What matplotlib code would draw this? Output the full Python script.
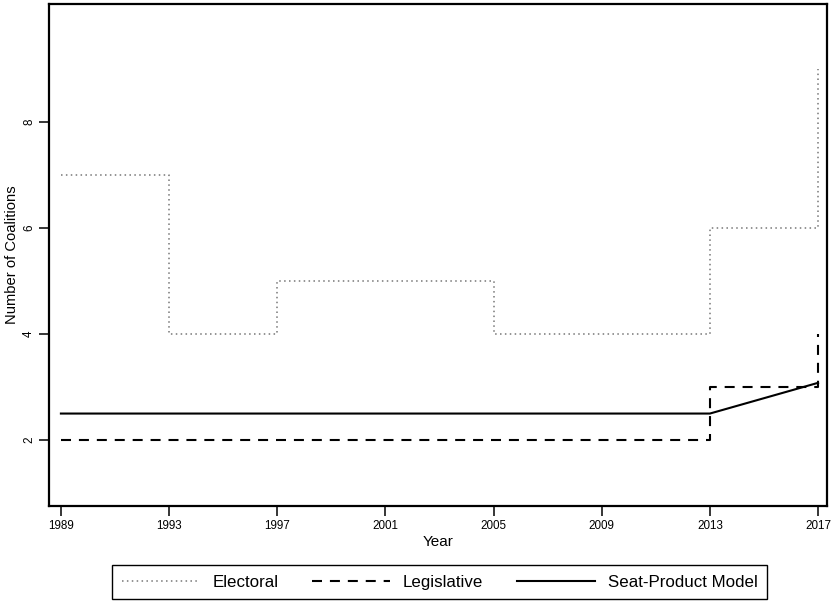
import numpy as np
import matplotlib.pyplot as plt

plt.rcParams['font.family'] = ['Liberation Sans', 'DejaVu Sans']

years = [1989, 1993, 1997, 2001, 2005, 2009, 2013, 2017]
electoral = [7, 4, 5, 5, 4, 4, 6, 9]
legislative = [2, 2, 2, 2, 2, 2, 3, 4]
seat_product_years = [1989, 2013, 2017]
seat_product = [2.5, 2.5, 3.08]

fig = plt.figure(figsize=(8.31, 6.02), dpi=100)
# axes box in pixels: x 49..827, y 4..506
ax = fig.add_axes([49 / 831, 1 - 506 / 602, (827 - 49) / 831, (506 - 4) / 602])

ax.plot(years, electoral, drawstyle='steps-post', color='#777777',
        lw=1.1, linestyle=(0, (1, 2.2)), label='Electoral')
ax.plot(years, legislative, drawstyle='steps-post', color='black',
        lw=1.5, linestyle=(0, (4.8, 3.8)), label='Legislative')
ax.plot(seat_product_years, seat_product, color='black', lw=1.5,
        label='Seat-Product Model')

ax.set_xlim(1988.56, 2017.33)
ax.set_ylim(0.755, 10.23)
ax.set_xticks(years)
ax.set_xticklabels([str(y) for y in years], fontsize=8.4)
ax.set_yticks([2, 4, 6, 8])
ax.set_yticklabels(['2', '4', '6', '8'], fontsize=8.4, rotation=90, va='center')
ax.tick_params(length=7, width=1.1, pad=3)

for s in ax.spines.values():
    s.set_linewidth(1.6)

ax.set_xlabel('Year', fontsize=11, labelpad=2)
ax.set_ylabel('Number of Coalitions', fontsize=10.6, labelpad=3)

# legend below the axes, one row
leg = fig.legend(loc='lower center', ncol=3,
                 bbox_to_anchor=(439.5 / 831, 3 / 602),
                 fontsize=12.2, handlelength=4.6, handletextpad=0.75,
                 columnspacing=2.0, borderpad=0.55,
                 fancybox=False, framealpha=1, edgecolor='black',
                 borderaxespad=0)
leg.get_frame().set_linewidth(1.0)

fig.savefig('out.png', dpi=100)
